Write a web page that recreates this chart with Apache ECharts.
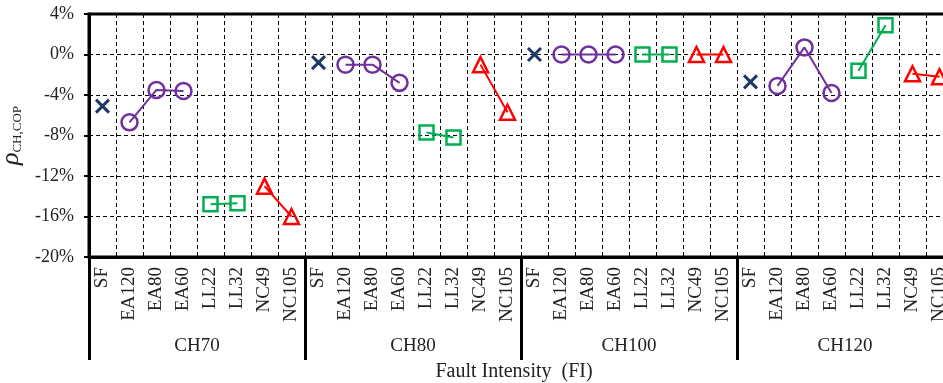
<!DOCTYPE html>
<html><head><meta charset="utf-8">
<script src="https://cdn.jsdelivr.net/npm/echarts@6/dist/echarts.min.js"></script>
<style>html,body{margin:0;padding:0;background:#fff}#c{width:943px;height:383px}</style>
</head><body><div id="c"></div>
<script>
const groups = ['CH70', 'CH80', 'CH100', 'CH120'];
const faultLabels = ['SF', 'EA120', 'EA80', 'EA60', 'LL22', 'LL32', 'NC49', 'NC105'];
const yTicks = [-20, -16, -12, -8, -4, 0, 4];
// values in percent, one entry per group
const sfValues = [-5.1, -0.8, 0.0, -2.7];
const eaValues = [[-6.7, -3.5, -3.6], [-1.0, -1.0, -2.8], [0.0, 0.0, 0.0], [-3.1, 0.7, -3.8]];
const llValues = [[-14.8, -14.7], [-7.7, -8.2], [0.0, 0.0], [-1.6, 2.9]];
const ncValues = [[-13.0, -16.0], [-1.0, -5.7], [0.0, 0.0], [-1.9, -2.2]];

const categories = [];
groups.forEach(() => faultLabels.forEach(f => categories.push(f)));
const n = categories.length;
function build(vals, offset) {
  const arr = new Array(n).fill(null);
  groups.forEach((g, gi) => {
    const v = Array.isArray(vals[gi]) ? vals[gi] : [vals[gi]];
    v.forEach((x, k) => { arr[gi * 8 + offset + k] = x; });
  });
  return arr;
}
const serif = '"Liberation Serif", "Times New Roman", serif';
const chart = echarts.init(document.getElementById('c'), null, {renderer: 'canvas'});
const mk = (name, data, symbol, size, color, bw) => ({
  name, type: 'line', data, symbol, symbolSize: size, connectNulls: false,
  showSymbol: true, clip: false, z: 5,
  lineStyle: {color, width: 2},
  itemStyle: {color: 'rgba(0,0,0,0)', borderColor: color, borderWidth: bw},
  emphasis: {disabled: true}
});
chart.setOption({
  animation: false,
  grid: {left: 89, top: 14, right: -10, bottom: 126, containLabel: false, outerBoundsMode: 'none',
    show: true, borderColor: '#000', borderWidth: 3, backgroundColor: 'transparent'},
  xAxis: [{
    type: 'category', data: categories, boundaryGap: true, position: 'bottom',
    axisLine: {show: true, onZero: false, lineStyle: {color: '#000', width: 3}},
    axisTick: {show: false},
    axisLabel: {rotate: 90, interval: 0, margin: 10, color: '#222', fontFamily: serif, fontSize: 19},
    splitLine: {show: true, interval: 0, lineStyle: {color: '#000', width: 1, type: [4, 3]}}
  }, {
    type: 'category', data: groups, boundaryGap: true, position: 'bottom',
    axisLine: {show: false, onZero: false},
    axisTick: {show: true, interval: 0, length: 103, lineStyle: {color: '#000', width: 3}},
    axisLabel: {interval: 0, margin: 80, color: '#222', fontFamily: serif, fontSize: 19},
    splitLine: {show: false},
    name: 'Fault Intensity  (FI)', nameLocation: 'middle', nameGap: 105,
    nameTextStyle: {color: '#222', fontFamily: serif, fontSize: 20, padding: [0, 14, 0, 0]}
  }],
  yAxis: {
    type: 'value', min: yTicks[0], max: yTicks[yTicks.length - 1], interval: 4,
    axisLine: {show: true, lineStyle: {color: '#000', width: 3}},
    axisTick: {show: true, length: 5, lineStyle: {color: '#000', width: 2}},
    axisLabel: {formatter: '{value}%', margin: 15, color: '#222', fontFamily: serif, fontSize: 18},
    splitLine: {show: true, lineStyle: {color: '#000', width: 1, type: [4, 3]}},
    name: '{a|ρ}{b|CH,COP}', nameLocation: 'middle', nameGap: 60, nameRotate: 90,
    nameTextStyle: {rich: {
      a: {fontFamily: serif, fontStyle: 'italic', fontSize: 26, color: '#222', verticalAlign: 'bottom'},
      b: {fontFamily: serif, fontSize: 13, color: '#222', verticalAlign: 'bottom', padding: [10, 0, 0, 0]}
    }}
  },
  series: [
    mk('SF', build(sfValues, 0), 'path://M0,0L10,10M10,0L0,10', 13, '#1F3864', 3),
    mk('EA', build(eaValues, 1), 'circle', 16, '#7030A0', 2.5),
    mk('LL', build(llValues, 4), 'rect', 14, '#00B050', 2.5),
    mk('NC', build(ncValues, 6), 'triangle', 15, '#FF0000', 2.5)
  ]
});
</script></body></html>
